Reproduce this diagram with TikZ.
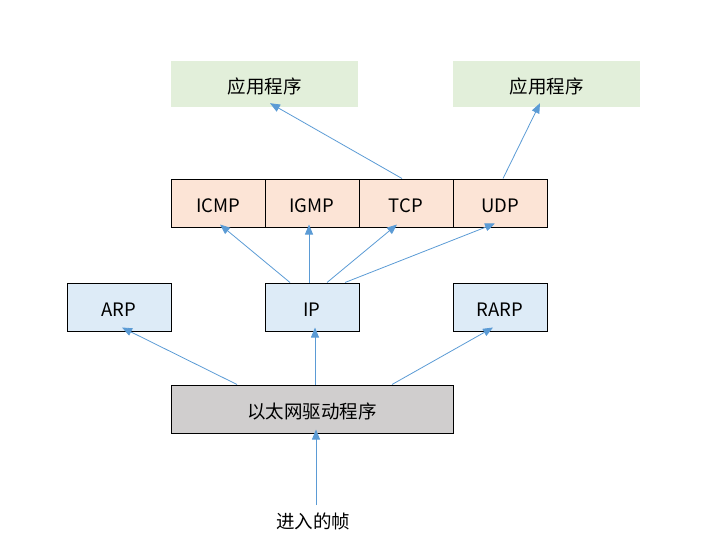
\documentclass[tikz,border=0pt]{standalone}
\usepackage{fontspec}
\setmainfont{Noto Sans CJK SC}
\usetikzlibrary{arrows.meta}
\definecolor{appfill}{HTML}{E2EFDA}
\definecolor{tpfill}{HTML}{FCE4D6}
\definecolor{ipfill}{HTML}{DDEBF7}
\definecolor{ethfill}{HTML}{D0CECE}
\definecolor{arr}{HTML}{5B9BD5}
\tikzset{
  lbl/.style={font=\fontsize{18.5}{22}\selectfont,text height=22.5pt,text depth=4pt},
  box/.style={draw=black,line width=1pt,inner sep=0pt,minimum height=48pt,lbl},
  appbox/.style={fill=appfill,inner sep=0pt,minimum width=187pt,minimum height=46pt,lbl},
  tp/.style={box,fill=tpfill,minimum width=94pt},
  ipb/.style={box,fill=ipfill},
  eth/.style={box,fill=ethfill,minimum width=282pt},
  flow/.style={draw=arr,line width=0.8pt,-{Triangle[length=10pt,width=8pt]}}
}
\begin{document}
\begin{tikzpicture}[x=1pt,y=-1pt]
\useasboundingbox (0,0) rectangle (706,557);
\node[appbox] (app1) at (264.5,84) {应用程序};
\node[appbox] (app2) at (546.5,84) {应用程序};
\node[tp] (icmp) at (218,203) {ICMP};
\node[tp] (igmp) at (312,203) {IGMP};
\node[tp] (tcp) at (406,203) {TCP};
\node[tp] (udp) at (500,203) {UDP};
\node[ipb,minimum width=104pt] (arp) at (119,307) {ARP};
\node[ipb,minimum width=94pt] (ip) at (312,307) {IP};
\node[ipb,minimum width=94pt] (rarp) at (500,307) {RARP};
\node[eth] (eth) at (312,409) {以太网驱动程序};
\node[lbl] (frame) at (313,519) {进入的帧};
% arrows
\draw[flow] ([xshift=-4pt]tcp.north) -- ([xshift=5.5pt,yshift=4pt]app1.south);
\draw[flow] ([xshift=3pt]udp.north) -- ([xshift=-6.5pt,yshift=4pt]app2.south);
\draw[flow] ([xshift=-22pt]ip.north) -- ([xshift=2pt,yshift=3pt]icmp.south);
\draw[flow] ([xshift=-3pt]ip.north) -- ([xshift=-3pt,yshift=3pt]igmp.south);
\draw[flow] ([xshift=15pt]ip.north) -- ([xshift=-9pt,yshift=3pt]tcp.south);
\draw[flow] ([xshift=33pt]ip.north) -- ([xshift=-5pt,yshift=4pt]udp.south);
\draw[flow] ([xshift=-75pt]eth.north) -- ([xshift=3pt,yshift=4pt]arp.south);
\draw[flow] ([xshift=3pt]eth.north) -- ([xshift=3pt,yshift=4pt]ip.south);
\draw[flow] ([xshift=80pt]eth.north) -- ([xshift=-7pt,yshift=4pt]rarp.south);
\coordinate (fs) at (316,505);
\draw[flow] (fs) -- ([xshift=4pt,yshift=4pt]eth.south);
\end{tikzpicture}
\end{document}
